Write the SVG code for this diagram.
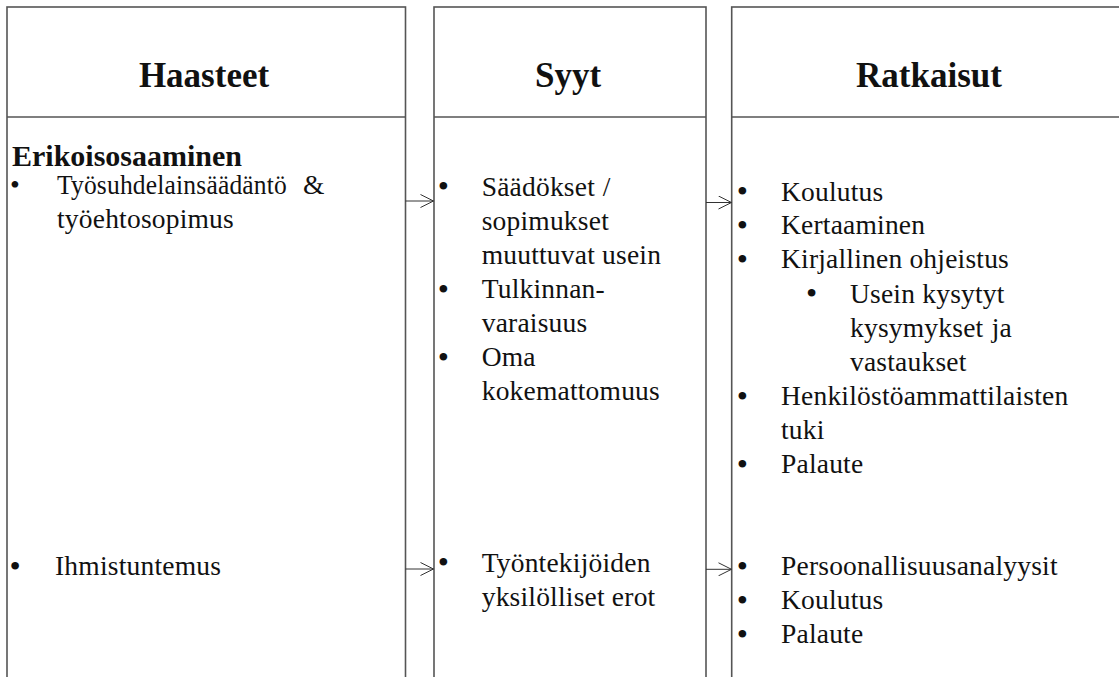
<svg xmlns="http://www.w3.org/2000/svg" width="1119" height="677" viewBox="0 0 1119 677">
  <defs>
    <marker id="open-arrow" viewBox="0 0 14 14" refX="13.5" refY="7" markerWidth="14" markerHeight="14" markerUnits="userSpaceOnUse" orient="auto">
      <path d="M0.5,0.5 L13.5,7 L0.5,13.5" fill="none" stroke="#333" stroke-width="1"/>
    </marker>
    <style>
      .col { fill: #fff; stroke: #555; stroke-width: 1.6; }
      .rule { stroke: #555; stroke-width: 1.6; }
      .head { font-family: "Liberation Serif", "Times New Roman", serif; font-weight: bold; font-size: 35px; fill: #111; text-anchor: middle; }
      .sub { font-family: "Liberation Serif", "Times New Roman", serif; font-weight: bold; font-size: 30px; fill: #111; }
      .txt { font-family: "Liberation Serif", "Times New Roman", serif; font-size: 27.5px; letter-spacing: 0.2px; fill: #111; }
      .dot { font-family: "Liberation Serif", "Times New Roman", serif; font-size: 32px; fill: #111; text-anchor: middle; }
      .dot.tight { font-size: 28px; }
      .link { stroke: #333; stroke-width: 1; fill: none; marker-end: url(#open-arrow); }
    </style>
  </defs>
  <rect width="1119" height="677" fill="#fff"/>

  <!-- Column 1: challenges -->
  <g id="haasteet">
    <rect class="col" x="7" y="7" width="398.5" height="700"/>
    <line class="rule" x1="7" y1="117" x2="405.5" y2="117"/>
    <text class="head" x="204" y="87.3">Haasteet</text>
    <text class="sub" x="12" y="166">Erikoisosaaminen</text>
    <text class="dot tight" x="15" y="194">•</text>
    <text class="txt" x="57" y="193.5" textLength="230" lengthAdjust="spacingAndGlyphs">Työsuhdelainsäädäntö</text>
    <text class="txt" x="303" y="193.5">&amp;</text>
    <text class="txt" x="57" y="227.7">työehtosopimus</text>
    <text class="dot" x="15" y="576.5">•</text>
    <text class="txt" x="55" y="575">Ihmistuntemus</text>
  </g>

  <!-- Column 2: causes -->
  <g id="syyt">
    <rect class="col" x="434" y="7" width="272" height="700"/>
    <line class="rule" x1="434" y1="117" x2="706" y2="117"/>
    <text class="head" x="568" y="87.3">Syyt</text>
    <text class="dot" x="443.3" y="197">•</text>
    <text class="txt" x="481.7" y="195.5">Säädökset</text>
    <text class="txt" x="602.7" y="195.5">/</text>
    <text class="txt" x="481.7" y="229.7">sopimukset</text>
    <text class="txt" x="481.7" y="263.8">muuttuvat usein</text>
    <text class="dot" x="443.3" y="299.5">•</text>
    <text class="txt" x="481.7" y="298">Tulkinnan-</text>
    <text class="txt" x="481.7" y="332">varaisuus</text>
    <text class="dot" x="443.3" y="367.5">•</text>
    <text class="txt" x="481.7" y="366">Oma</text>
    <text class="txt" x="481.7" y="400">kokemattomuus</text>
    <text class="dot" x="443.3" y="573.2">•</text>
    <text class="txt" x="481.7" y="571.7">Työntekijöiden</text>
    <text class="txt" x="481.7" y="605.5">yksilölliset erot</text>
  </g>

  <!-- Column 3: solutions -->
  <g id="ratkaisut">
    <rect class="col" x="731.7" y="7" width="400" height="700"/>
    <line class="rule" x1="731.7" y1="117" x2="1131.7" y2="117"/>
    <text class="head" x="929" y="87.3">Ratkaisut</text>
    <text class="dot" x="742.3" y="202.2">•</text>
    <text class="txt" x="781" y="200.7">Koulutus</text>
    <text class="dot" x="742.3" y="235.8">•</text>
    <text class="txt" x="781" y="234.3">Kertaaminen</text>
    <text class="dot" x="742.3" y="269.8">•</text>
    <text class="txt" x="781" y="268.3">Kirjallinen ohjeistus</text>
    <text class="dot" x="811.7" y="304.2">•</text>
    <text class="txt" x="850" y="302.7">Usein kysytyt</text>
    <text class="txt" x="850" y="336.7">kysymykset</text>
    <text class="txt" x="991.7" y="336.7">ja</text>
    <text class="txt" x="850" y="370.5">vastaukset</text>
    <text class="dot" x="742.3" y="406.5">•</text>
    <text class="txt" x="781" y="405">Henkilöstöammattilaisten</text>
    <text class="txt" x="781" y="438.5">tuki</text>
    <text class="dot" x="742.3" y="474.5">•</text>
    <text class="txt" x="781" y="473">Palaute</text>
    <text class="dot" x="742.3" y="576.5">•</text>
    <text class="txt" x="781" y="575">Persoonallisuusanalyysit</text>
    <text class="dot" x="742.3" y="610.8">•</text>
    <text class="txt" x="781" y="609.3">Koulutus</text>
    <text class="dot" x="742.3" y="644.8">•</text>
    <text class="txt" x="781" y="643.3">Palaute</text>
  </g>

  <!-- Connectors between the columns -->
  <g id="connectors">
    <line class="link" x1="405.5" y1="201" x2="433.5" y2="201"/>
    <line class="link" x1="706" y1="202.5" x2="731.5" y2="202.5"/>
    <line class="link" x1="405.5" y1="569" x2="433.5" y2="569"/>
    <line class="link" x1="706" y1="569.3" x2="731.5" y2="569.3"/>
  </g>
</svg>
